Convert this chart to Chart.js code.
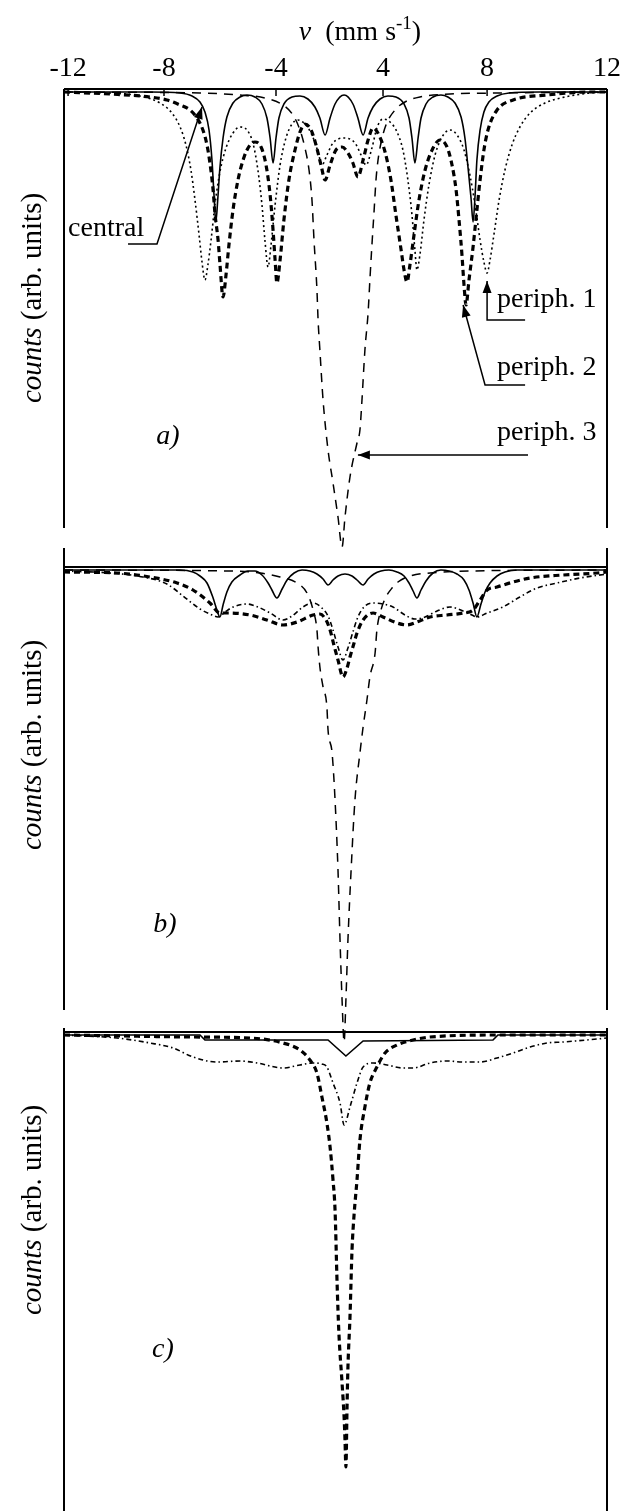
<!DOCTYPE html>
<html><head><meta charset="utf-8">
<script src="https://cdn.jsdelivr.net/npm/chart.js@4.4.1/dist/chart.umd.min.js"></script>
<style>
html,body{margin:0;padding:0;background:#fff;}
#wrap{position:relative;width:627px;height:1511px;overflow:hidden;background:#fff;}
canvas{position:absolute;left:0;}
</style></head><body>
<div id="wrap">
<canvas id="ca" style="top:0px" width="627" height="600"></canvas>
<canvas id="cb" style="top:540px" width="627" height="540"></canvas>
<canvas id="cc" style="top:1000px" width="627" height="511"></canvas>
</div>
<script>
// ---- axis ----
const tickLabels = ['-12','-8','-4','4','8','12'];
const tickPositions = [-11.82,-7.58,-2.63,2.1,6.7,12];

// ---- panel a) : [velocity mm/s, counts (arb. units, 0 = baseline)] ----
const a_central = [[-12,0],[-8.2,0],[-6.87,-1],[-6.34,-4],[-5.99,-10],[-5.77,-20],[-5.59,-38],[-5.46,-68],[-5.37,-103],[-5.29,-130],[-5.2,-106],[-5.11,-76],[-4.97,-46],[-4.8,-25],[-4.53,-11],[-4.22,-5],[-3.91,-3],[-3.56,-5],[-3.25,-12],[-3.03,-26],[-2.89,-46],[-2.76,-71],[-2.63,-46],[-2.5,-26],[-2.28,-12],[-1.92,-5],[-1.57,-4],[-1.22,-7],[-0.91,-15],[-0.69,-26],[-0.46,-43],[-0.24,-26],[-0.02,-12],[0.38,-3],[0.77,-12],[0.99,-26],[1.22,-43],[1.44,-26],[1.66,-15],[1.97,-7],[2.32,-4],[2.67,-5],[3.03,-12],[3.25,-26],[3.38,-46],[3.51,-71],[3.65,-46],[3.78,-26],[4.0,-12],[4.31,-5],[4.66,-3],[4.97,-5],[5.28,-11],[5.55,-25],[5.72,-46],[5.86,-76],[5.99,-106],[6.08,-130],[6.17,-103],[6.25,-68],[6.39,-38],[6.56,-20],[6.78,-10],[7.14,-4],[7.67,-1],[9.04,0],[12,0]];
const a_periph1 = [[-12,0],[-9.97,-1],[-8.64,-4],[-7.76,-11],[-7.23,-21],[-6.87,-35],[-6.61,-53],[-6.39,-78],[-6.21,-108],[-6.03,-143],[-5.9,-170],[-5.77,-188],[-5.64,-173],[-5.5,-148],[-5.33,-113],[-5.11,-80],[-4.84,-56],[-4.53,-41],[-4.22,-35],[-3.91,-38],[-3.65,-51],[-3.43,-78],[-3.25,-113],[-3.12,-148],[-2.98,-175],[-2.85,-153],[-2.67,-113],[-2.45,-73],[-2.19,-46],[-1.92,-32],[-1.66,-28],[-1.35,-32],[-1.04,-43],[-0.77,-60],[-0.6,-73],[-0.38,-63],[-0.11,-51],[0.38,-46],[0.86,-51],[1.13,-63],[1.35,-73],[1.61,-56],[1.83,-36],[2.1,-27],[2.41,-30],[2.72,-40],[2.98,-58],[3.2,-88],[3.38,-123],[3.51,-158],[3.6,-178],[3.73,-163],[3.91,-128],[4.13,-93],[4.4,-63],[4.71,-45],[5.06,-38],[5.37,-43],[5.68,-58],[5.94,-83],[6.17,-113],[6.39,-148],[6.56,-170],[6.7,-181],[6.83,-168],[7.0,-143],[7.23,-108],[7.49,-78],[7.8,-53],[8.15,-35],[8.6,-21],[9.26,-11],[10.14,-5],[11.25,-1],[12,0]];
const a_periph2 = [[-12,0],[-9.97,-2],[-8.2,-5],[-7.45,-8],[-6.87,-13],[-6.43,-18],[-6.12,-26],[-5.86,-38],[-5.68,-53],[-5.55,-71],[-5.41,-98],[-5.33,-121],[-5.19,-148],[-5.11,-171],[-4.97,-205],[-4.84,-183],[-4.71,-153],[-4.53,-118],[-4.31,-88],[-4.04,-65],[-3.78,-53],[-3.56,-50],[-3.29,-55],[-3.07,-73],[-2.89,-103],[-2.76,-138],[-2.67,-168],[-2.59,-191],[-2.45,-168],[-2.28,-128],[-2.06,-88],[-1.79,-58],[-1.57,-40],[-1.35,-32],[-1.08,-38],[-0.86,-53],[-0.64,-73],[-0.46,-88],[-0.24,-73],[0.02,-58],[0.29,-55],[0.55,-61],[0.77,-71],[0.99,-85],[1.22,-68],[1.44,-48],[1.66,-36],[1.92,-43],[2.19,-60],[2.45,-88],[2.67,-123],[2.9,-158],[3.03,-178],[3.16,-190],[3.29,-173],[3.47,-143],[3.69,-108],[3.96,-78],[4.27,-58],[4.62,-48],[4.93,-55],[5.15,-73],[5.33,-98],[5.46,-128],[5.59,-163],[5.68,-193],[5.77,-213],[5.9,-188],[6.08,-155],[6.25,-118],[6.39,-88],[6.56,-58],[6.74,-38],[7.14,-18],[7.85,-8],[9.35,-3],[11.25,0],[12,0]];
const a_periph3 = [[-12,0],[-5.99,-1],[-4.22,-3],[-3.12,-6],[-2.32,-13],[-1.88,-23],[-1.57,-38],[-1.35,-56],[-1.17,-78],[-1.04,-108],[-0.95,-148],[-0.82,-198],[-0.77,-228],[-0.69,-258],[-0.55,-308],[-0.33,-358],[-0.11,-391],[0.11,-425],[0.29,-455],[0.42,-425],[0.64,-385],[0.95,-351],[1.08,-338],[1.17,-308],[1.3,-258],[1.44,-221],[1.52,-188],[1.61,-153],[1.7,-121],[1.79,-88],[1.88,-68],[2.01,-51],[2.23,-33],[2.63,-18],[3.07,-10],[3.73,-5],[5.06,-2],[7.27,-1],[12,0]];

// ---- panel b) ----
const b_central = [[-12,0],[-6.87,0],[-6.3,-2],[-5.99,-6],[-5.68,-13],[-5.41,-28],[-5.24,-40],[-5.11,-47],[-4.97,-35],[-4.8,-22],[-4.58,-12],[-4.22,-5],[-3.87,-1],[-3.56,-1],[-3.25,-5],[-2.98,-13],[-2.81,-20],[-2.59,-28],[-2.36,-19],[-2.14,-10],[-1.83,-3],[-1.48,0],[-1.13,-1],[-0.82,-4],[-0.55,-9],[-0.33,-15],[-0.11,-10],[0.11,-6],[0.42,-4],[0.73,-6],[0.95,-10],[1.22,-15],[1.44,-9],[1.7,-4],[2.01,-1],[2.36,0],[2.72,-2],[3.03,-6],[3.25,-13],[3.43,-21],[3.6,-28],[3.78,-20],[4.0,-11],[4.31,-3],[4.66,0],[5.02,-1],[5.37,-4],[5.68,-10],[5.9,-20],[6.08,-33],[6.25,-47],[6.43,-34],[6.61,-22],[6.83,-13],[7.14,-6],[7.49,-2],[8.02,0],[12,0]];
const b_periph1 = [[-12,-1],[-9.97,-3],[-8.51,-7],[-7.45,-14],[-6.74,-26],[-5.99,-39],[-5.55,-44],[-5.19,-47],[-4.88,-42],[-4.53,-37],[-3.91,-34],[-3.43,-37],[-2.89,-43],[-2.32,-50],[-1.92,-46],[-1.44,-37],[-0.99,-33],[-0.6,-38],[-0.33,-46],[-0.11,-60],[0.11,-77],[0.33,-90],[0.55,-78],[0.77,-62],[0.99,-47],[1.26,-37],[1.66,-33],[2.1,-34],[2.54,-37],[3.07,-45],[3.51,-49],[3.96,-47],[4.49,-41],[5.06,-37],[5.64,-41],[6.03,-45],[6.25,-47],[6.7,-43],[7.4,-37],[8.15,-27],[8.91,-18],[9.79,-13],[10.81,-8],[12,-4]];
const b_periph2 = [[-12,-2],[-9.66,-3],[-8.2,-7],[-7.0,-13],[-6.3,-20],[-5.55,-33],[-5.11,-43],[-4.66,-43],[-3.78,-45],[-3.03,-50],[-2.32,-55],[-1.7,-52],[-0.99,-45],[-0.69,-44],[-0.42,-50],[-0.24,-60],[-0.07,-75],[0.11,-90],[0.33,-107],[0.51,-98],[0.64,-87],[0.82,-73],[0.95,-63],[1.22,-50],[1.66,-43],[2.1,-47],[2.72,-53],[3.16,-55],[3.6,-52],[4.18,-47],[4.93,-45],[5.64,-43],[6.08,-40],[6.39,-30],[6.7,-20],[7.14,-17],[7.85,-12],[8.6,-8],[10.06,-5],[11.56,-3],[12,-2]];
const b_periph3 = [[-12,0],[-4.66,-1],[-3.34,-3],[-2.45,-7],[-1.7,-13],[-1.26,-23],[-0.99,-40],[-0.82,-60],[-0.77,-77],[-0.69,-97],[-0.55,-117],[-0.38,-137],[-0.33,-160],[-0.15,-183],[-0.02,-230],[0.11,-300],[0.2,-370],[0.29,-430],[0.38,-472],[0.46,-430],[0.55,-370],[0.69,-300],[0.86,-230],[1.08,-183],[1.22,-157],[1.39,-130],[1.52,-107],[1.75,-83],[1.83,-60],[2.01,-40],[2.23,-27],[2.5,-18],[2.76,-12],[3.29,-6],[4.18,-3],[5.94,-1],[12,0]];

// ---- panel c) ----
const c_central = [[-12,0],[-5.99,0],[-5.77,-5],[-0.33,-5],[0.46,-21],[1.22,-6],[6.96,-5],[7.18,0],[12,0]];
const c_periph1 = [[-12,0],[-9.66,-3],[-8.2,-8],[-7.18,-13],[-6.3,-22],[-5.24,-27],[-4.22,-26],[-3.47,-28],[-2.32,-33],[-1.57,-30],[-0.99,-28],[-0.6,-29],[-0.38,-32],[-0.11,-48],[0.2,-68],[0.38,-90],[0.64,-72],[0.95,-48],[1.22,-32],[1.66,-28],[2.28,-30],[2.98,-33],[3.43,-33],[4.18,-28],[4.93,-26],[5.64,-27],[6.39,-27],[7.14,-23],[7.85,-18],[8.6,-12],[9.35,-8],[10.06,-7],[11.56,-4],[12,-3]];
const c_periph2 = [[-12,0],[-6.3,-2],[-3.78,-3],[-2.32,-8],[-1.57,-15],[-1.13,-25],[-0.82,-38],[-0.6,-62],[-0.38,-88],[-0.24,-112],[-0.11,-145],[-0.02,-175],[0.07,-248],[0.15,-298],[0.29,-348],[0.38,-382],[0.42,-405],[0.46,-432],[0.51,-372],[0.55,-332],[0.64,-282],[0.73,-215],[0.82,-180],[0.95,-145],[1.08,-105],[1.3,-72],[1.52,-48],[1.83,-32],[2.19,-18],[2.72,-10],[3.43,-5],[4.18,-2],[7.27,0],[12,0]];

const FONT = '"Liberation Serif","Times New Roman",serif';
const FS = 28;

const STY = {
  central:{borderWidth:1.6, borderDash:[]},
  periph1:{borderWidth:1.6, borderDash:[2,3]},
  periph1b:{borderWidth:1.6, borderDash:[5,3,1.5,3]},
  periph2:{borderWidth:3.2, borderDash:[6,4]},
  periph3:{borderWidth:1.5, borderDash:[9,7]}
};
function ds(label, arr, sty, extra){
  return Object.assign({label, data: arr.map(p=>({x:p[0], y:p[1]})), borderColor:'#000', backgroundColor:'#000',
    pointRadius:0, fill:false, clip:false, cubicInterpolationMode:'monotone'}, STY[sty], extra||{});
}

function arrowHead(ctx,x0,y0,x1,y1,len,half){
  const a=Math.atan2(y1-y0,x1-x0), c=Math.cos(a), s=Math.sin(a);
  ctx.beginPath();
  ctx.moveTo(x1,y1);
  ctx.lineTo(x1-len*c+half*s, y1-len*s-half*c);
  ctx.lineTo(x1-len*c-half*s, y1-len*s+half*c);
  ctx.closePath(); ctx.fill();
}

const decor = {
  id:'decor',
  afterDraw(chart,_a,o){
    const {ctx, chartArea:ca, scales:{x:xs,y:ys}} = chart;
    ctx.save();
    ctx.strokeStyle='#000'; ctx.fillStyle='#000'; ctx.lineWidth=2; ctx.setLineDash([]);
    ctx.beginPath();
    ctx.moveTo(ca.left,ca.top); ctx.lineTo(ca.right,ca.top);
    ctx.moveTo(ca.left,ca.top-o.ext); ctx.lineTo(ca.left,ca.bottom);
    ctx.moveTo(ca.right,ca.top-o.ext); ctx.lineTo(ca.right,ca.bottom);
    ctx.stroke();
    if(o.innerTicks){
      ctx.lineWidth=1.5;
      xs.ticks.forEach(t=>{const px=xs.getPixelForValue(t.value); if(px>ca.left+3&&px<ca.right-3){ctx.beginPath();ctx.moveTo(px,ca.top);ctx.lineTo(px,ca.top+7);ctx.stroke();}});
    }
    // y label
    ctx.save();
    ctx.translate(o.ylabX,o.ylabY); ctx.rotate(-Math.PI/2);
    ctx.textBaseline='middle'; ctx.textAlign='left';
    const fi=`italic ${FS+1}px ${FONT}`, fn=`${FS+1}px ${FONT}`;
    ctx.font=fi; const w1=ctx.measureText('counts').width;
    ctx.font=fn; const w2=ctx.measureText(' (arb. units)').width;
    const sx=-(w1+w2)/2;
    ctx.font=fi; ctx.fillText('counts',sx,0);
    ctx.font=fn; ctx.fillText(' (arb. units)',sx+w1,0);
    ctx.restore();
    // panel letter
    ctx.font=`italic ${FS}px ${FONT}`; ctx.textAlign='center'; ctx.textBaseline='middle';
    ctx.fillText(o.letter,o.letX,o.letY);
    // axis title
    if(o.title){
      const parts=[['v',`italic ${FS}px ${FONT}`,0],['  (mm s',`${FS}px ${FONT}`,0],['-1',`${Math.round(FS*0.68)}px ${FONT}`,-9],[')',`${FS}px ${FONT}`,0]];
      let tw=0; parts.forEach(p=>{ctx.font=p[1]; p.push(ctx.measureText(p[0]).width); tw+=p[3];});
      let x=o.titleX-tw/2; ctx.textAlign='left';
      parts.forEach(p=>{ctx.font=p[1]; ctx.fillText(p[0],x,o.titleY+p[2]); x+=p[3];});
    }
    // annotations
    (o.notes||[]).forEach(n=>{
      ctx.font=`${FS}px ${FONT}`; ctx.textAlign='left'; ctx.textBaseline='middle';
      ctx.fillText(n.text, xs.getPixelForValue(n.at[0]), ys.getPixelForValue(n.at[1]));
      const pts=n.path.map(p=>[xs.getPixelForValue(p[0]), ys.getPixelForValue(p[1])]);
      ctx.lineWidth=1.5; ctx.beginPath(); ctx.moveTo(pts[0][0],pts[0][1]);
      for(let i=1;i<pts.length;i++) ctx.lineTo(pts[i][0],pts[i][1]);
      ctx.stroke();
      const m=pts.length; arrowHead(ctx,pts[m-2][0],pts[m-2][1],pts[m-1][0],pts[m-1][1],12,4.5);
    });
    ctx.restore();
  }
};

function makeChart(id, datasets, yMin, yMax, pad, xOpts, decorOpts){
  return new Chart(document.getElementById(id),{
    type:'line',
    data:{datasets},
    options:{
      responsive:false, animation:false, events:[],
      layout:{padding:pad},
      plugins:{legend:{display:false}, tooltip:{enabled:false}, decor:decorOpts},
      scales:{
        x:Object.assign({type:'linear',min:-12,max:12}, xOpts),
        y:{type:'linear',min:yMin,max:yMax,display:false}
      }
    },
    plugins:[decor]
  });
}

const xTop = {
  position:'top', display:true,
  afterBuildTicks:s=>{s.ticks=tickPositions.map(v=>({value:v}));},
  afterFit:s=>{s.height=89;},
  grid:{display:false,drawTicks:false}, border:{display:false},
  ticks:{autoSkip:false,maxRotation:0,minRotation:0,padding:4,color:'#000',font:{family:FONT,size:FS},
    callback:(v,i)=>tickLabels[i]}
};

makeChart('ca',[
  ds('central',a_central,'central'),
  ds('periph. 1',a_periph1,'periph1'),
  ds('periph. 2',a_periph2,'periph2'),
  ds('periph. 3',a_periph3,'periph3')
], -436, 3, {left:64,right:20,top:0,bottom:72}, xTop,
{ext:0, innerTicks:true, ylabX:33, ylabY:298, letter:'a)', letX:168, letY:437, title:true, titleX:360, titleY:33,
 notes:[
  {text:'central', at:[-11.82,-137], path:[[-9.17,-152],[-7.89,-152],[-5.9,-15]]},
  {text:'periph. 1', at:[7.14,-208], path:[[8.38,-228],[6.7,-228],[6.7,-189]]},
  {text:'periph. 2', at:[7.14,-276], path:[[8.38,-293],[6.61,-293],[5.64,-213]]},
  {text:'periph. 3', at:[7.14,-341], path:[[8.51,-363],[0.99,-363]]}
 ]});

makeChart('cb',[
  ds('central',b_central,'central'),
  ds('periph. 1',b_periph1,'periph1b'),
  ds('periph. 2',b_periph2,'periph2'),
  ds('periph. 3',b_periph3,'periph3')
], -440, 3, {left:64,right:20,top:27,bottom:70}, {display:false},
{ext:19, ylabX:33, ylabY:205, letter:'b)', letX:165, letY:385});

makeChart('cc',[
  ds('central',c_central,'central',{cubicInterpolationMode:'default',tension:0}),
  ds('periph. 1',c_periph1,'periph1b'),
  ds('periph. 2',c_periph2,'periph2')
], -476, 3, {left:64,right:20,top:32,bottom:0}, {display:false},
{ext:4, ylabX:33, ylabY:210, letter:'c)', letX:163, letY:350});
</script>
</body></html>
